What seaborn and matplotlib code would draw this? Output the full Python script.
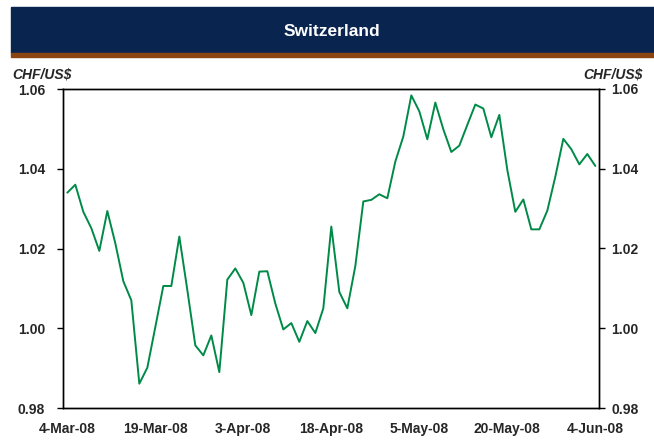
import numpy as np
import pandas as pd
import matplotlib
matplotlib.use("Agg")
import matplotlib.pyplot as plt
from matplotlib.patches import Rectangle
import seaborn as sns

# CHF per US$, business days 4-Mar-08 .. 4-Jun-08
dates = pd.bdate_range("2008-03-04", "2008-06-04")
chf_usd = [
    1.0340, 1.0360, 1.0292, 1.0251, 1.0194, 1.0294, 1.0213, 1.0118, 1.0070, 0.9861,
    0.9901, 1.0003, 1.0106, 1.0106, 1.0230, 1.0096, 0.9957, 0.9932, 0.9982, 0.9890,
    1.0122, 1.0150, 1.0114, 1.0033, 1.0142, 1.0143, 1.0062, 0.9997, 1.0013, 0.9966,
    1.0018, 0.9988, 1.0050, 1.0255, 1.0091, 1.0050, 1.0156, 1.0318, 1.0322, 1.0336,
    1.0326, 1.0418, 1.0481, 1.0584, 1.0544, 1.0474, 1.0566, 1.0499, 1.0442, 1.0458,
    1.0510, 1.0561, 1.0551, 1.0479, 1.0535, 1.0397, 1.0292, 1.0323, 1.0248, 1.0248,
    1.0295, 1.0380, 1.0475, 1.0449, 1.0411, 1.0437, 1.0407,
]
y_ticks = [0.98, 1.00, 1.02, 1.04, 1.06]
x_label_every = 11

df = pd.DataFrame({"pos": np.arange(len(dates)), "date": dates, "rate": chf_usd})

sns.set_style("white")
plt.rcParams["font.family"] = ["Liberation Sans", "DejaVu Sans"]
plt.rcParams["font.weight"] = "bold"

navy = "#0a2450"
brown = "#8a4510"
green = "#008a47"

fig = plt.figure(figsize=(6.54, 4.40), dpi=100)
fig.patch.set_facecolor("white")

# header band
fig.patches.append(Rectangle((11 / 654, 1 - 53 / 440), 1, 46 / 440,
                             transform=fig.transFigure, color=navy, zorder=0))
fig.patches.append(Rectangle((11 / 654, 1 - 57 / 440), 1, 4 / 440,
                             transform=fig.transFigure, color=brown, zorder=0))
fig.text(332 / 654, 1 - 31 / 440, "Switzerland", color="white", fontsize=12.5,
         fontweight="bold", ha="center", va="center")

ax = fig.add_axes([63 / 654, 32 / 440, 536 / 654, 319 / 440])
sns.lineplot(data=df, x="pos", y="rate", ax=ax, color=green, linewidth=1.4)

ax.set_xlim(-0.54, len(dates) - 0.54)
ax.set_ylim(0.98, 1.06)
ax.set_yticks(y_ticks)
ax.set_yticklabels([f"{v:.2f}" for v in y_ticks])
tick_pos = df["pos"][::x_label_every]
ax.set_xticks(tick_pos)
ax.set_xticklabels([d.strftime("%-d-%b-%y") for d in df["date"][::x_label_every]])
ax.set_xlabel("")
ax.set_ylabel("")
ax.tick_params(axis="y", direction="out", length=4, width=1, color="black",
               pad=9, labelsize=10, left=True)
ax.tick_params(axis="x", length=0, pad=10, labelsize=10)
for s in ax.spines.values():
    s.set_color("black")
    s.set_linewidth(1)

ax2 = ax.twinx()
ax2.set_ylim(0.98, 1.06)
ax2.set_yticks(y_ticks)
ax2.set_yticklabels([f"{v:.2f}" for v in y_ticks])
ax2.tick_params(axis="y", direction="out", length=4, width=1, color="black",
                pad=5, labelsize=10, right=True)
for s in ax2.spines.values():
    s.set_color("black")
    s.set_linewidth(1)

fig.text(12 / 654, 1 - 74 / 440, "CHF/US$", fontsize=10, fontweight="bold",
         fontstyle="italic", ha="left", va="center")
fig.text(643 / 654, 1 - 74 / 440, "CHF/US$", fontsize=10, fontweight="bold",
         fontstyle="italic", ha="right", va="center")

fig.savefig("out.png", dpi=100)
